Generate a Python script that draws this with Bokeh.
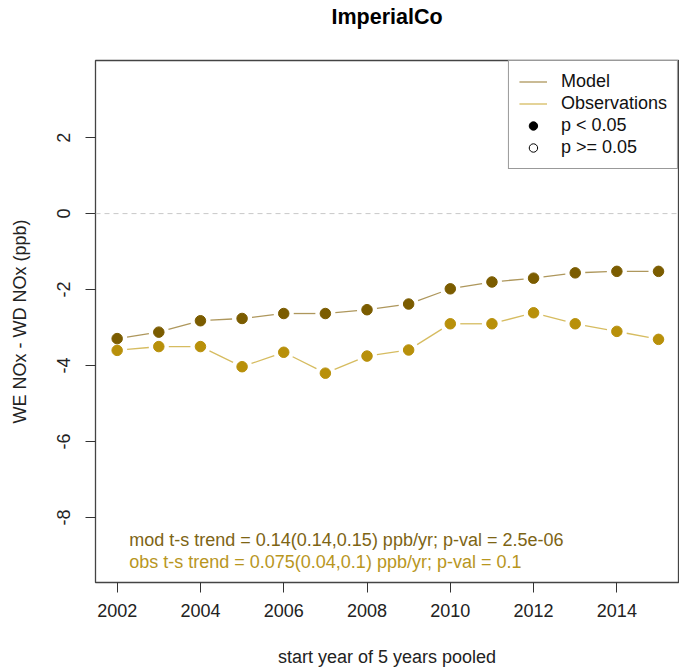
import math
from bokeh.plotting import figure
from bokeh.models import (Range1d, FixedTicker, Span, Legend, LegendItem,
                          ColumnDataSource, Title)
from bokeh.core.properties import value
from bokeh.embed import file_html
from bokeh.resources import INLINE

# start year of each 5-year pooled window
years = [2002, 2003, 2004, 2005, 2006, 2007, 2008,
         2009, 2010, 2011, 2012, 2013, 2014, 2015]
# weekend minus weekday NOx (ppb)
model = [-3.29, -3.12, -2.82, -2.76, -2.63, -2.63, -2.53,
         -2.38, -1.98, -1.80, -1.70, -1.56, -1.52, -1.52]
obs = [-3.60, -3.50, -3.50, -4.03, -3.65, -4.20, -3.75,
       -3.59, -2.90, -2.90, -2.61, -2.90, -3.10, -3.31]
# all points significant (filled)
model_sig = [True] * len(years)
obs_sig = [True] * len(years)

x_ticks = [2002, 2004, 2006, 2008, 2010, 2012, 2014]
y_ticks = [-8, -6, -4, -2, 0, 2]

title = "ImperialCo"
trend_text = ["mod t-s trend = 0.14(0.14,0.15) ppb/yr; p-val = 2.5e-06",
              "obs t-s trend = 0.075(0.04,0.1) ppb/yr; p-val = 0.1"]
trend_x = [2002.29, 2002.29]
trend_y = [-8.58, -9.18]

MOD_PT, MOD_LN, MOD_TX = "#7b5c00", "#ae975c", "#7d6414"
OBS_PT, OBS_LN, OBS_TX = "#b8900a", "#d6bc60", "#b8961e"
FONT = "Liberation Sans"

W, H = 679, 671
BL, BR, BT, BB = 95, 1, 60, 89
X0, X1 = 2001.48, 2015.48
Y0, Y1 = -9.71, 4.03

p = figure(width=W, height=H, output_backend="svg", toolbar_location=None,
           x_range=Range1d(X0, X1), y_range=Range1d(Y0, Y1),
           min_border_left=BL, min_border_right=BR, min_border_top=BT,
           min_border_bottom=BB, title=None)

# an empty spacer title keeps the main title clear of the frame
p.add_layout(Title(text=" ", text_font_size="27px", standoff=0), "above")
p.add_layout(Title(text=title, align="center", text_font=FONT,
                   text_font_size="21.5px", text_font_style="bold",
                   text_color="black", standoff=0), "above")

p.xgrid.visible = False
p.ygrid.visible = False
p.outline_line_color = "#444444"
p.outline_line_width = 1.3
p.background_fill_color = "white"
p.border_fill_color = "white"

for ax in (p.xaxis[0], p.yaxis[0]):
    ax.axis_line_color = None
    ax.major_tick_in = 0
    ax.major_tick_out = 10
    ax.minor_tick_out = 0
    ax.minor_tick_in = 0
    ax.major_tick_line_color = "#333333"
    ax.major_label_text_font = FONT
    ax.major_label_text_font_size = "18px"
    ax.major_label_text_color = "#222222"
    ax.axis_label_text_font = FONT
    ax.axis_label_text_font_size = "18px"
    ax.axis_label_text_font_style = "normal"
    ax.axis_label_text_color = "#222222"

p.xaxis.ticker = FixedTicker(ticks=x_ticks)
p.yaxis.ticker = FixedTicker(ticks=y_ticks)
p.yaxis.major_label_overrides = {t: str(t) for t in y_ticks}
p.xaxis.axis_label = "start year of 5 years pooled"
p.yaxis.axis_label = "WE NOx - WD NOx (ppb)"
p.xaxis.major_label_standoff = 11
p.xaxis.axis_label_standoff = 27
p.yaxis.major_label_orientation = "vertical"
p.yaxis.major_label_standoff = 15
p.yaxis.axis_label_standoff = 25

# pixels per data unit inside the frame
kx = (W - BL - BR) / (X1 - X0)
ky = (H - BT - BB) / (Y1 - Y0)

# zero reference line
p.add_layout(Span(location=0, dimension="width", line_color="#c8c8c8",
                  line_dash="5 4", line_width=1))

GAP = 10.0  # screen distance kept clear around each point


def broken_segments(xs, ys):
    """Connecting segments shortened at both ends, like R's type='b'."""
    x0s, y0s, x1s, y1s = [], [], [], []
    for i in range(len(xs) - 1):
        dx = (xs[i + 1] - xs[i]) * kx
        dy = (ys[i + 1] - ys[i]) * ky
        d = math.hypot(dx, dy)
        if d <= 2 * GAP:
            continue
        fx, fy = GAP * dx / d / kx, GAP * dy / d / ky
        x0s.append(xs[i] + fx)
        y0s.append(ys[i] + fy)
        x1s.append(xs[i + 1] - fx)
        y1s.append(ys[i + 1] - fy)
    return dict(x0=x0s, y0=y0s, x1=x1s, y1=y1s)


p.segment("x0", "y0", "x1", "y1", source=ColumnDataSource(broken_segments(years, model)),
          line_color=MOD_LN, line_width=1.3)
p.segment("x0", "y0", "x1", "y1", source=ColumnDataSource(broken_segments(years, obs)),
          line_color=OBS_LN, line_width=1.3)

mod_src = ColumnDataSource(dict(x=years, y=model,
                                fill=[MOD_PT if s else "white" for s in model_sig]))
obs_src = ColumnDataSource(dict(x=years, y=obs,
                                fill=[OBS_PT if s else "white" for s in obs_sig]))
p.scatter("x", "y", source=mod_src, size=10.5, fill_color="fill", line_color=MOD_PT)
p.scatter("x", "y", source=obs_src, size=10.5, fill_color="fill", line_color=OBS_PT)

# trend annotations
p.text(x=trend_x, y=trend_y, text=trend_text,
       text_color=[MOD_TX, OBS_TX], text_font=value(FONT),
       text_font_size="18px", text_align="left", text_baseline="middle")

# legend entries (renderers with no visible data)
nan = [float("nan")]
lg_mod = p.line(x=nan, y=nan, line_color=MOD_LN, line_width=1.3)
lg_obs = p.line(x=nan, y=nan, line_color=OBS_LN, line_width=1.3)
lg_sig = p.scatter(x=nan, y=nan, size=9, fill_color="black", line_color="black")
lg_ns = p.scatter(x=nan, y=nan, size=8, fill_color="white", line_color="black")

legend = Legend(items=[
    LegendItem(label="Model", renderers=[lg_mod]),
    LegendItem(label="Observations", renderers=[lg_obs]),
    LegendItem(label="p < 0.05", renderers=[lg_sig]),
    LegendItem(label="p >= 0.05", renderers=[lg_ns]),
], location="top_right")
legend.margin = 0
legend.padding = 10
legend.spacing = 1
legend.label_height = 21
legend.glyph_height = 21
legend.glyph_width = 28
legend.label_standoff = 14
legend.label_text_font = FONT
legend.label_text_font_size = "18px"
legend.label_text_color = "#111111"
legend.border_line_color = "#333333"
legend.border_line_width = 1
legend.background_fill_alpha = 1
p.add_layout(legend)

open("out.html", "w").write(file_html(p, INLINE))
